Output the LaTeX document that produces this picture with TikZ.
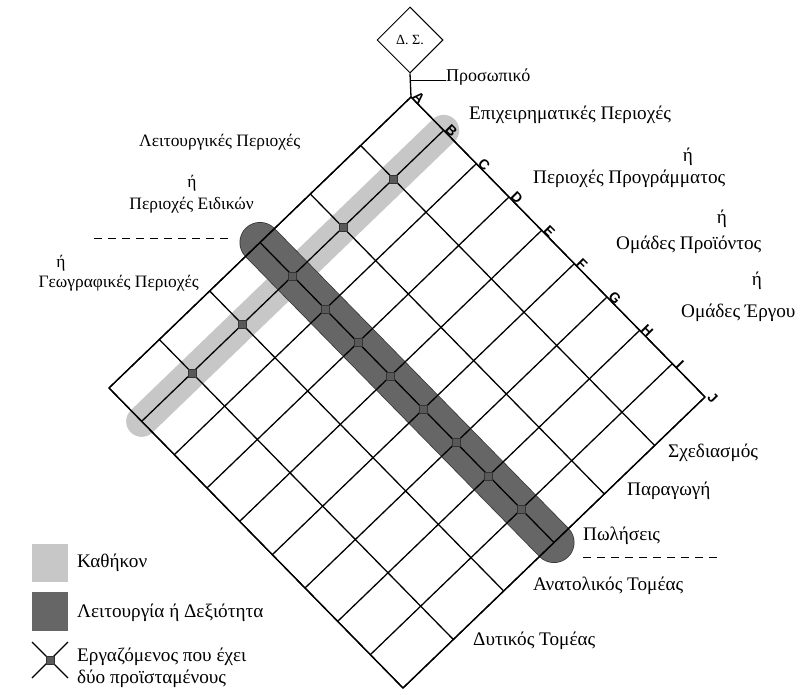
\documentclass[tikz,border=0pt]{standalone}
\usepackage{fontspec}
\setmainfont{Liberation Serif}
\setsansfont{Liberation Sans}
\usetikzlibrary{shapes.geometric}
\begin{document}
\begin{tikzpicture}[x=1pt,y=-1pt,
  lbl/.style={font=\fontsize{19.2}{22}\selectfont, inner sep=0pt},
  sidelbl/.style={font=\fontsize{17.4}{20}\selectfont, inner sep=0pt},
  colletter/.style={font=\sffamily\bfseries\fontsize{14}{15}\selectfont, rotate=-45, inner sep=0pt},
  gridline/.style={line width=1.3pt, black},
  divider/.style={line width=1pt, dash pattern=on 8pt off 6pt},
  junction/.style={draw=black!80, fill=black!65, line width=0.5pt, minimum size=8pt, inner sep=0pt},
  dutyfill/.style={black!22},
  skillfill/.style={black!60},
]
\useasboundingbox (0,0) rectangle (809,694);

% lattice: origin at the top corner, u runs down-right (columns A..J), v runs down-left (rows)
\def\ox{411}\def\oy{97}
\def\ux{32.667}\def\uy{33.333}
\def\vx{-50.333}\def\vy{48.5}
\foreach \u in {0,...,9}
  \foreach \v in {0,...,6}
    \coordinate (g-\u-\v) at ({\ox+\u*\ux+\v*\vx},{\oy+\u*\uy+\v*\vy});

% duty band (column B) and function band (middle row)
\draw[dutyfill, line width=31pt, line cap=round] (g-1-0) -- (g-1-6);
\draw[black!80, line width=41pt, line cap=round] (g-0-3) -- (g-9-3);
\draw[skillfill, line width=39.5pt, line cap=round] (g-0-3) -- (g-9-3);

% grid
\foreach \u in {0,...,9}
  \draw[gridline] (g-\u-0) -- (g-\u-6);
\foreach \v in {0,...,6}
  \draw[gridline] (g-0-\v) -- (g-9-\v);
\draw[gridline, line join=miter] (g-0-0) -- (g-9-0) -- (g-9-6) -- (g-0-6) -- cycle;

% employees with two supervisors
\foreach \v in {1,2,4,5}
  \node[junction] at (g-1-\v) {};
\foreach \u in {1,...,8}
  \node[junction] at (g-\u-3) {};

% column letters
\foreach \u/\l in {0/A,1/B,2/C,3/D,4/E,5/F,6/G,7/H,8/I,9/J}
  \node[colletter, xshift=6pt, yshift=5pt] (col-\l) at (g-\u-0) {\l};

% board and staff
\node[draw, diamond, aspect=1, minimum width=66pt, minimum height=66pt, inner sep=0pt, line width=1pt,
      font=\fontsize{14}{15}\selectfont] (ds) at (410,40) {Δ. Σ.};
\draw[gridline] (ds.south) -- (g-0-0);
\node[lbl, font=\fontsize{18}{20}\selectfont, anchor=base west] (prs) at (446,81) {Προσωπικό};
\coordinate (pk) at (411,80);
\draw[line width=1pt] (pk) -- (pk -| prs.west);

% labels along the upper-right side
\node[lbl, anchor=west] (t1) at (469,115) {Επιχειρηματικές Περιοχές};
\node[lbl] (t1o) at (688,157) {ή};
\node[lbl, anchor=west] (t2) at (533,179) {Περιοχές Προγράμματος};
\node[lbl] (t2o) at (722,219) {ή};
\node[lbl, anchor=west] (t3) at (616,245) {Ομάδες Προϊόντος};
\node[lbl] (t3o) at (757,281) {ή};
\node[lbl, anchor=west] (t4) at (681,313) {Ομάδες Έργου};

% labels along the upper-left side
\node[sidelbl, anchor=west] (l1) at (139,142) {Λειτουργικές Περιοχές};
\node[sidelbl] (l1o) at (192,183) {ή};
\node[sidelbl, anchor=east] (l2) at (254,205) {Περιοχές Ειδικών};
\coordinate (dl1) at (94,238);
\coordinate (dl2) at (228,238);
\draw[divider] (dl1) -- (dl2);
\node[sidelbl] (l2o) at (61,263) {ή};
\node[sidelbl, anchor=east] (l3) at (199,283) {Γεωγραφικές Περιοχές};

% labels along the lower-right side
\node[lbl, anchor=west] (r1) at (668,453) {Σχεδιασμός};
\node[lbl, anchor=west] (r2) at (627,491) {Παραγωγή};
\node[lbl, anchor=west] (r3) at (583,536) {Πωλήσεις};
\coordinate (dr1) at (583,557);
\coordinate (dr2) at (718,557);
\draw[divider] (dr1) -- (dr2);
\node[lbl, anchor=west] (r4) at (533,586) {Ανατολικός Τομέας};
\node[lbl, anchor=west] (r5) at (473,641) {Δυτικός Τομέας};

% legend
\fill[dutyfill] (32,544) rectangle (68,582);
\node[lbl, anchor=west] (k1) at (77,563) {Καθήκον};
\fill[skillfill] (32,592) rectangle (68,631);
\node[lbl, anchor=west] (k2) at (77,613) {Λειτουργία ή Δεξιότητα};
\coordinate (x1) at (32,642);
\coordinate (x2) at (68,678);
\coordinate (x3) at (68,642);
\coordinate (x4) at (32,678);
\draw[gridline] (x1) -- (x2);
\draw[gridline] (x3) -- (x4);
\node[junction] (kx) at (50,660) {};
\node[lbl, anchor=west] (k3) at (77,657) {Εργαζόμενος που έχει};
\node[lbl, anchor=west] (k4) at (77,679) {δύο προϊσταμένους};
\end{tikzpicture}
\end{document}
